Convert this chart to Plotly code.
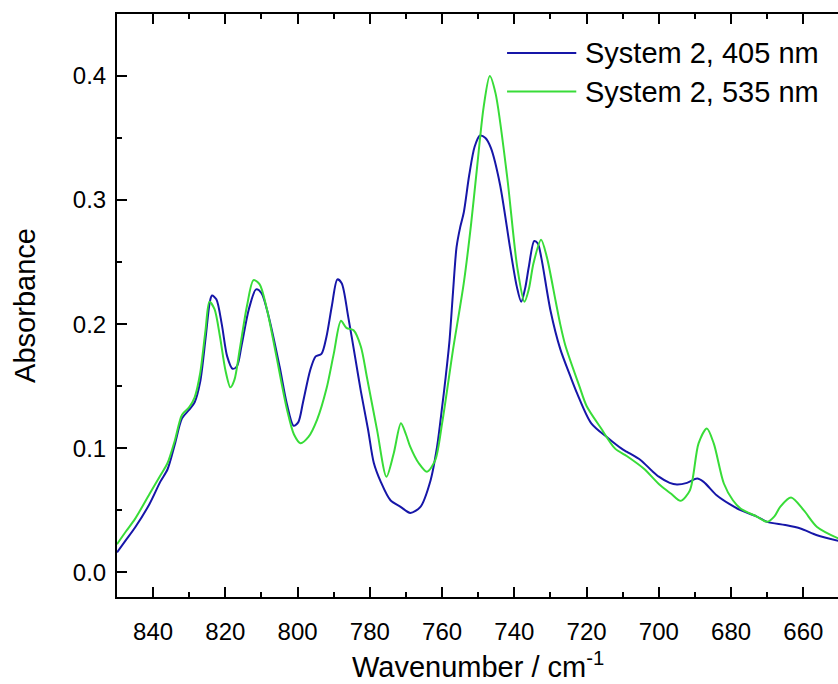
import plotly.graph_objects as go

# ---- data ----
wn_405 = [850, 847.5, 845, 841, 838, 836, 834, 832, 830, 828.5, 827, 825.5, 824.3, 823.7, 822.5, 821,
          819.5, 818, 816.8, 815.5, 813.5, 811.5, 810, 808, 805, 803, 801.1, 799.8, 798.5, 796.5, 795,
          793.4, 792, 790.5, 789, 787.8, 786, 784, 782.5, 780.5, 778.9, 777, 774.3, 771.5, 768.8, 766,
          763.2, 761.4, 760, 759.1, 758, 757, 756, 755, 754, 752.5, 751, 749.5, 748, 746.5, 744, 741.1,
          739.3, 738.1, 737, 736, 734.5, 733.5, 732.5, 730, 727.3, 724.5, 722.6, 718.7, 714, 710.3,
          708.8, 705, 702, 700, 697, 695, 692.2, 689.4, 687.6, 684, 680.5, 677.4, 673, 670, 665, 660.8,
          656.2, 650.3]
abs_405 = [0.016, 0.026, 0.036, 0.055, 0.073, 0.083, 0.103, 0.124, 0.131, 0.137, 0.153, 0.188, 0.218,
           0.223, 0.220, 0.200, 0.174, 0.164, 0.166, 0.183, 0.212, 0.228, 0.225, 0.206, 0.166, 0.136,
           0.118, 0.121, 0.137, 0.163, 0.174, 0.176, 0.190, 0.215, 0.236, 0.233, 0.206, 0.172, 0.146,
           0.115, 0.088, 0.073, 0.058, 0.0527, 0.0478, 0.0527, 0.074, 0.101, 0.133, 0.155, 0.185, 0.225,
           0.262, 0.278, 0.290, 0.320, 0.343, 0.352, 0.350, 0.342, 0.313, 0.260, 0.230, 0.218, 0.229,
           0.246, 0.267, 0.265, 0.253, 0.211, 0.180, 0.158, 0.144, 0.120, 0.108, 0.0996, 0.097, 0.0903,
           0.082, 0.077, 0.072, 0.0707, 0.072, 0.0755, 0.0728, 0.062, 0.055, 0.050, 0.045, 0.0406,
           0.038, 0.0352, 0.0298, 0.0253]

wn_535 = [850, 847.5, 845, 841, 838, 836, 834, 832, 830, 828.5, 827, 825.5, 824.4, 823, 821.5, 820,
          818.6, 817.5, 816, 814, 812.2, 810.5, 808.5, 806, 803, 801, 799.2, 797, 794.6, 792, 790, 788,
          786.5, 784.5, 782.5, 780.8, 778, 775.4, 773.4, 771.4, 770, 768.8, 766.5, 764.2, 761.9, 760,
          758.2, 757, 754, 752, 750.3, 748.5, 746.8, 745.2, 742, 739.2, 737.2, 736, 734.7, 732.6, 731,
          728.6, 727.3, 725.9, 722, 720, 716, 712.1, 708.8, 704.2, 699.6, 696.5, 694, 691.4, 689, 686.7,
          684.8, 682, 679.5, 677.4, 673, 670, 668, 666.4, 663.4, 659.9, 656.2, 650.3]
abs_535 = [0.0226, 0.033, 0.043, 0.063, 0.078, 0.088, 0.106, 0.127, 0.133, 0.141, 0.160, 0.195, 0.218,
           0.212, 0.190, 0.163, 0.149, 0.155, 0.180, 0.215, 0.2355, 0.232, 0.212, 0.176, 0.132, 0.111,
           0.104, 0.109, 0.123, 0.148, 0.176, 0.2027, 0.197, 0.195, 0.182, 0.157, 0.1145, 0.077, 0.0957,
           0.120, 0.111, 0.101, 0.088, 0.081, 0.0903, 0.120, 0.155, 0.179, 0.233, 0.280, 0.327, 0.375,
           0.400, 0.386, 0.319, 0.246, 0.218, 0.228, 0.249, 0.268, 0.254, 0.219, 0.200, 0.183, 0.150,
           0.134, 0.116, 0.0996, 0.0935, 0.0836, 0.070, 0.063, 0.0575, 0.066, 0.1038, 0.1159, 0.1038,
           0.0715, 0.058, 0.0514, 0.045, 0.0406, 0.045, 0.0527, 0.0602, 0.050, 0.0365, 0.0272]

series_names = ["System 2, 405 nm", "System 2, 535 nm"]
series_colors = ["#1616A8", "#38DC38"]
x_title = "Wavenumber / cm<sup>-1</sup>"
y_title = "Absorbance"

FONT = "Liberation Sans, Arial, sans-serif"

fig = go.Figure()
for wn, ab, name, col in [(wn_405, abs_405, series_names[0], series_colors[0]),
                          (wn_535, abs_535, series_names[1], series_colors[1])]:
    fig.add_trace(go.Scatter(x=wn, y=ab, mode="lines", name=name, showlegend=False,
                             line=dict(color=col, width=2, shape="spline", smoothing=0.8)))

# manual legend (long line samples like the reference)
leg_y = [0.933, 0.867]
for i, (name, col) in enumerate(zip(series_names, series_colors)):
    fig.add_shape(type="line", xref="paper", yref="paper", x0=0.541, x1=0.637,
                  y0=leg_y[i], y1=leg_y[i], line=dict(color=col, width=2))
    fig.add_annotation(xref="paper", yref="paper", x=0.646, y=leg_y[i], text=name,
                       showarrow=False, xanchor="left", yanchor="middle",
                       font=dict(family=FONT, size=29, color="black"))

# x-axis title (placed as annotation so it can sit close to the bottom edge)
fig.add_annotation(xref="paper", yref="paper", x=0.5, y=-0.117, text=x_title,
                   showarrow=False, xanchor="center", yanchor="middle",
                   font=dict(family=FONT, size=29, color="black"))

axis_common = dict(
    showline=True, linecolor="black", linewidth=2,
    ticks="inside", ticklen=10, tickwidth=2, tickcolor="black",
    showgrid=False, zeroline=False,
    tickfont=dict(family=FONT, size=24, color="black"),
)

fig.update_xaxes(range=[850, 650.4], tickmode="linear", tick0=840, dtick=20,
                 mirror="ticks",
                 minor=dict(ticks="inside", ticklen=5, tickwidth=2, tickcolor="black",
                            tick0=830, dtick=10),
                 ticklabelstandoff=12,
                 **axis_common)
fig.update_yaxes(range=[-0.02, 0.45], tickmode="linear", tick0=0, dtick=0.1,
                 tickformat=".1f", mirror=False,
                 minor=dict(ticks="inside", ticklen=5, tickwidth=2, tickcolor="black",
                            tick0=0.05, dtick=0.1),
                 title=dict(text=y_title, font=dict(family=FONT, size=29, color="black"),
                            standoff=29),
                 ticklabelstandoff=4,
                 **axis_common)

fig.update_layout(
    width=838, height=684,
    margin=dict(l=117, r=0, t=14, b=87, autoexpand=False),
    plot_bgcolor="white", paper_bgcolor="white",
    font=dict(family=FONT, color="black"),
)

fig.write_html("out.html")
